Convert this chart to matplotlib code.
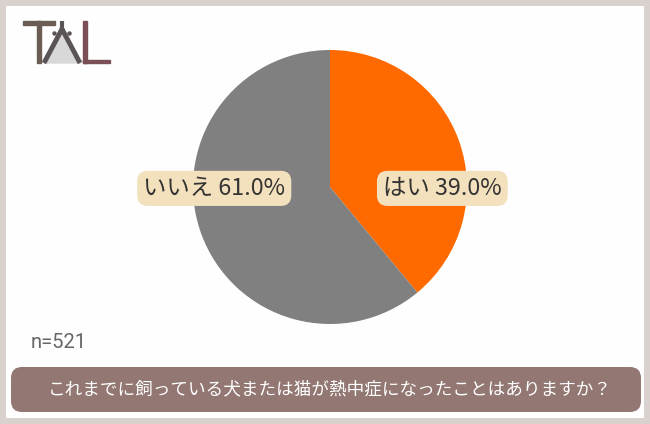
import matplotlib
matplotlib.use("Agg")
import matplotlib.pyplot as plt
from matplotlib.patches import FancyBboxPatch, Rectangle, Polygon

plt.rcParams['font.family'] = ['Noto Sans CJK JP', 'DejaVu Sans']

# data
labels = ["はい", "いいえ"]
shares = [39.0, 61.0]
colors = ["#ff6a00", "#808080"]
n_total = 521
question = "これまでに飼っている犬または猫が熱中症になったことはありますか？"

W, H = 650, 424
fig = plt.figure(figsize=(W / 100, H / 100), dpi=100)
fig.patch.set_facecolor("#d9d1ce")

# backdrop in pixel coordinates
bg = fig.add_axes([0, 0, 1, 1])
bg.set_xlim(0, W)
bg.set_ylim(H, 0)
bg.axis("off")
bg.add_patch(Rectangle((6, 6), 638, 412, facecolor="#fefefe", edgecolor="none"))

# logo "TAL"
bg.add_patch(Rectangle((23, 21), 32, 3.5, color="#6b5d54"))
bg.add_patch(Rectangle((37, 21), 4, 42, color="#6b5d54"))
bg.add_patch(Polygon([(62, 31), (44, 63), (80, 63)], closed=True, color="#d8d8d8"))
bg.plot([62, 44], [29, 63], color="#5a5456", lw=3.5, solid_capstyle="butt")
bg.plot([62, 80], [29, 63], color="#5a5456", lw=3.5, solid_capstyle="butt")
bg.plot([62, 62], [21, 30], color="#5a5456", lw=3, solid_capstyle="butt")
bg.plot([54, 69], [33, 33], "o", color="#5a5456", ms=2.2)
bg.add_patch(Rectangle((83, 21), 4, 42, color="#7a4f55"))
bg.add_patch(Rectangle((83, 59.5), 27, 3.5, color="#7a4f55"))

# sample size
bg.text(31, 343, f"n={n_total}", fontsize=14.5, family="Roboto", color="#666666",
        va="center", ha="left")

# question banner
bg.add_patch(FancyBboxPatch((11, 367), 630, 45, boxstyle="round,pad=0,rounding_size=11",
                            facecolor="#927772", edgecolor="none"))
bg.text(330, 389, question, fontsize=12.7, color="white", ha="center", va="center")

# pie
cx, cy, r = 330, 187, 137
ax = fig.add_axes([(cx - r) / W, 1 - (cy + r) / H, 2 * r / W, 2 * r / H])
ax.pie(shares, colors=colors, startangle=90, counterclock=False,
       wedgeprops=dict(linewidth=0))
ax.set_xlim(-1, 1)
ax.set_ylim(-1, 1)
ax.set_aspect("equal")

box = dict(boxstyle="round,pad=0.26,rounding_size=0.45", facecolor="#f3e0bd", edgecolor="none")
label_x = [0.82, -0.845]
for lab, val, x in zip(labels, shares, label_x):
    ax.text(x, -0.01, f"{lab} {val:.1f}%", fontsize=16.8, color="#333333",
            ha="center", va="center", bbox=box)

fig.savefig("out.png", dpi=100, facecolor=fig.get_facecolor())
